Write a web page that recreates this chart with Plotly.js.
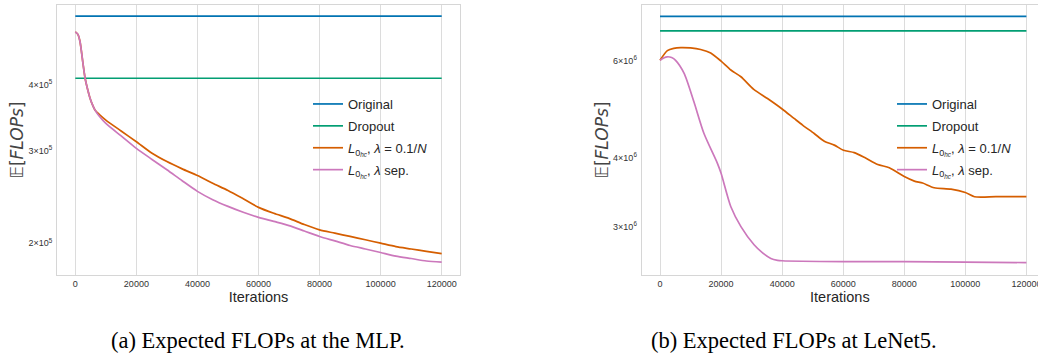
<!DOCTYPE html>
<html>
<head>
<meta charset="utf-8">
<script src="https://cdn.plot.ly/plotly-3.0.1.min.js"></script>
<style>html,body{margin:0;padding:0;background:#fff;}#chart{width:1038px;height:359px;}</style>
</head>
<body>
<div id="chart"></div>
<script>
// ---------- data ----------
const xTicks = [0, 20000, 40000, 60000, 80000, 100000, 120000];
const xTickText = ['0', '20000', '40000', '60000', '80000', '100000', '120000'];

// (a) MLP
const mlpLineIters = [0, 120000];
const mlpOriginal = [541000, 541000];
const mlpDropout = [412000, 412000];
const mlpIters = [0, 800, 1500, 2500, 3200, 4000, 4800, 5600, 6500, 8000, 10000, 15000, 20000, 25000, 30000, 35000, 40000, 45000, 50000, 55000, 60000, 65000, 70000, 75000, 80000, 85000, 90000, 95000, 100000, 105000, 110000, 115000, 120000];
const mlpL0fixed = [505000, 500000, 485000, 440000, 412000, 393000, 378000, 367000, 358000, 351000, 343000, 327000, 312000, 297000, 286000, 277000, 269000, 260000, 252000, 243000, 234000, 228000, 223000, 217000, 212000, 209000, 206000, 203000, 200000, 197000, 195000, 193000, 191000];
const mlpL0sep = [505000, 500000, 485000, 440000, 412000, 393000, 378000, 367000, 358000, 348000, 338000, 320000, 303000, 289000, 276000, 263000, 251000, 242000, 235000, 229000, 224000, 220000, 216000, 211000, 206000, 202000, 198000, 195000, 192000, 189000, 187000, 185000, 184000];
const mlpYTicks = [200000, 300000, 400000];
const mlpYTickText = ['2×10<sup>5</sup>', '3×10<sup>5</sup>', '4×10<sup>5</sup>'];

// (b) LeNet5
const lenetLineIters = [0, 120000];
const lenetOriginal = [7240000, 7240000];
const lenetDropout = [6810000, 6810000];
const lenetItersFixed = [0, 2400, 4500, 6800, 10000, 13300, 16600, 20000, 23200, 26500, 30700, 35200, 40000, 43900, 46700, 50500, 53800, 57100, 60100, 63600, 66900, 71300, 75100, 80000, 83300, 86000, 89800, 95300, 100000, 103000, 110000, 120000];
const lenetL0fixed = [6020000, 6270000, 6330000, 6350000, 6340000, 6300000, 6210000, 6000000, 5780000, 5620000, 5330000, 5130000, 4910000, 4720000, 4590000, 4430000, 4290000, 4220000, 4130000, 4090000, 4010000, 3890000, 3840000, 3700000, 3630000, 3600000, 3530000, 3510000, 3460000, 3400000, 3400000, 3400000];
const lenetItersSep = [0, 1200, 2400, 3800, 5100, 7900, 11100, 14400, 18800, 20000, 23200, 26500, 30800, 33500, 36300, 38500, 40000, 60000, 80000, 100000, 120000];
const lenetL0sep = [6020000, 6080000, 6110000, 6090000, 6020000, 5700000, 5060000, 4430000, 3910000, 3750000, 3260000, 3000000, 2780000, 2690000, 2625000, 2605000, 2600000, 2590000, 2590000, 2585000, 2580000];
const lenetYTicks = [3000000, 4000000, 6000000];
const lenetYTickText = ['3×10<sup>6</sup>', '4×10<sup>6</sup>', '6×10<sup>6</sup>'];

const seriesNames = ['Original', 'Dropout', '<i>L</i><sub>0<sub><i>hc</i></sub></sub>, <i>λ</i> = 0.1/<i>N</i>', '<i>L</i><sub>0<sub><i>hc</i></sub></sub>, <i>λ</i> sep.'];
const captions = ['(a) Expected FLOPs at the MLP.', '(b) Expected FLOPs at LeNet5.'];

// ---------- style ----------
const colors = ['#0173b2', '#029e73', '#d55e00', '#cc78bc'];
const W = 1038, H = 359;
const LW = 1.7;
const sans = 'Liberation Sans, Arial, sans-serif';

function tr(x, y, i, xa, ya, lg) {
  return {x: x, y: y, type: 'scatter', mode: 'lines', name: seriesNames[i], legendgroup: lg + i,
    line: {color: colors[i], width: LW, shape: 'spline', smoothing: 0.7}, xaxis: xa, yaxis: ya, legend: lg, hoverinfo: 'skip'};
}

const data = [
  tr(mlpLineIters, mlpOriginal, 0, 'x', 'y', 'legend'),
  tr(mlpLineIters, mlpDropout, 1, 'x', 'y', 'legend'),
  tr(mlpIters, mlpL0fixed, 2, 'x', 'y', 'legend'),
  tr(mlpIters, mlpL0sep, 3, 'x', 'y', 'legend'),
  tr(lenetLineIters, lenetOriginal, 0, 'x2', 'y2', 'legend2'),
  tr(lenetLineIters, lenetDropout, 1, 'x2', 'y2', 'legend2'),
  tr(lenetItersFixed, lenetL0fixed, 2, 'x2', 'y2', 'legend2'),
  tr(lenetItersSep, lenetL0sep, 3, 'x2', 'y2', 'legend2')
];

function xax(domain, range, mirror) {
  return {domain: domain, range: range, tickmode: 'array', tickvals: xTicks, ticktext: xTickText,
    showgrid: true, gridcolor: '#dcdcdc', gridwidth: 1, zeroline: false,
    showline: true, mirror: mirror, linecolor: '#d6d6d6', linewidth: 1, ticks: '',
    tickfont: {family: sans, size: 9, color: '#333'}, ticklabeloverflow: 'allow',
    title: {text: 'Iterations', font: {family: sans, size: 14.5, color: '#262626'}, standoff: 3},
    automargin: false, fixedrange: true};
}
function yax(domain, range, tv, tt, anchor) {
  return {domain: domain, type: 'log', range: range, tickmode: 'array', tickvals: tv, ticktext: tt,
    showgrid: false, zeroline: false, showline: true, mirror: false, linecolor: '#d6d6d6', linewidth: 1,
    ticks: '', tickfont: {family: sans, size: 9, color: '#333'}, anchor: anchor, ticklabelstandoff: 2,
    title: {text: '𝔼[<i>FLOPs</i>]', font: {family: 'DejaVu Sans, sans-serif', size: 17, color: '#444'}, standoff: 0},
    automargin: false, fixedrange: true};
}

const legendCommon = {xanchor: 'left', yanchor: 'top', bgcolor: 'rgba(0,0,0,0)',
  font: {family: sans, size: 13, color: '#262626'}, tracegroupgap: 2, itemclick: false};

const layout = {
  width: W, height: H, margin: {l: 0, r: 0, t: 0, b: 0},
  paper_bgcolor: '#ffffff', plot_bgcolor: '#ffffff', showlegend: true,
  xaxis: xax([57 / W, 460 / W], [-6000, 126000], true),
  yaxis: Object.assign(yax([1 - 275 / H, 1 - 5 / H], [5.2405, 5.7543], mlpYTicks, mlpYTickText, 'x'), {mirror: true}),
  xaxis2: Object.assign(xax([641.7 / W, 1], [-6000, 123800], true), {anchor: 'y2'}),
  yaxis2: yax([1 - 275.3 / H, 1 - 4.7 / H], [6.3885, 6.8808], lenetYTicks, lenetYTickText, 'x2'),
  legend: Object.assign({x: 308 / W, y: 1 - 89 / H}, legendCommon),
  legend2: Object.assign({x: 892 / W, y: 1 - 89 / H}, legendCommon),
  annotations: [
    {text: captions[0], xref: 'paper', yref: 'paper', x: 258 / W, y: 1 - 340 / H, xanchor: 'center', yanchor: 'middle',
      showarrow: false, font: {family: 'Liberation Serif, Times New Roman, serif', size: 22.5, color: '#000'}},
    {text: captions[1], xref: 'paper', yref: 'paper', x: 794 / W, y: 1 - 340 / H, xanchor: 'center', yanchor: 'middle',
      showarrow: false, font: {family: 'Liberation Serif, Times New Roman, serif', size: 22.5, color: '#000'}}
  ]
};

Plotly.newPlot('chart', data, layout, {staticPlot: true, displayModeBar: false});
</script>
</body>
</html>
